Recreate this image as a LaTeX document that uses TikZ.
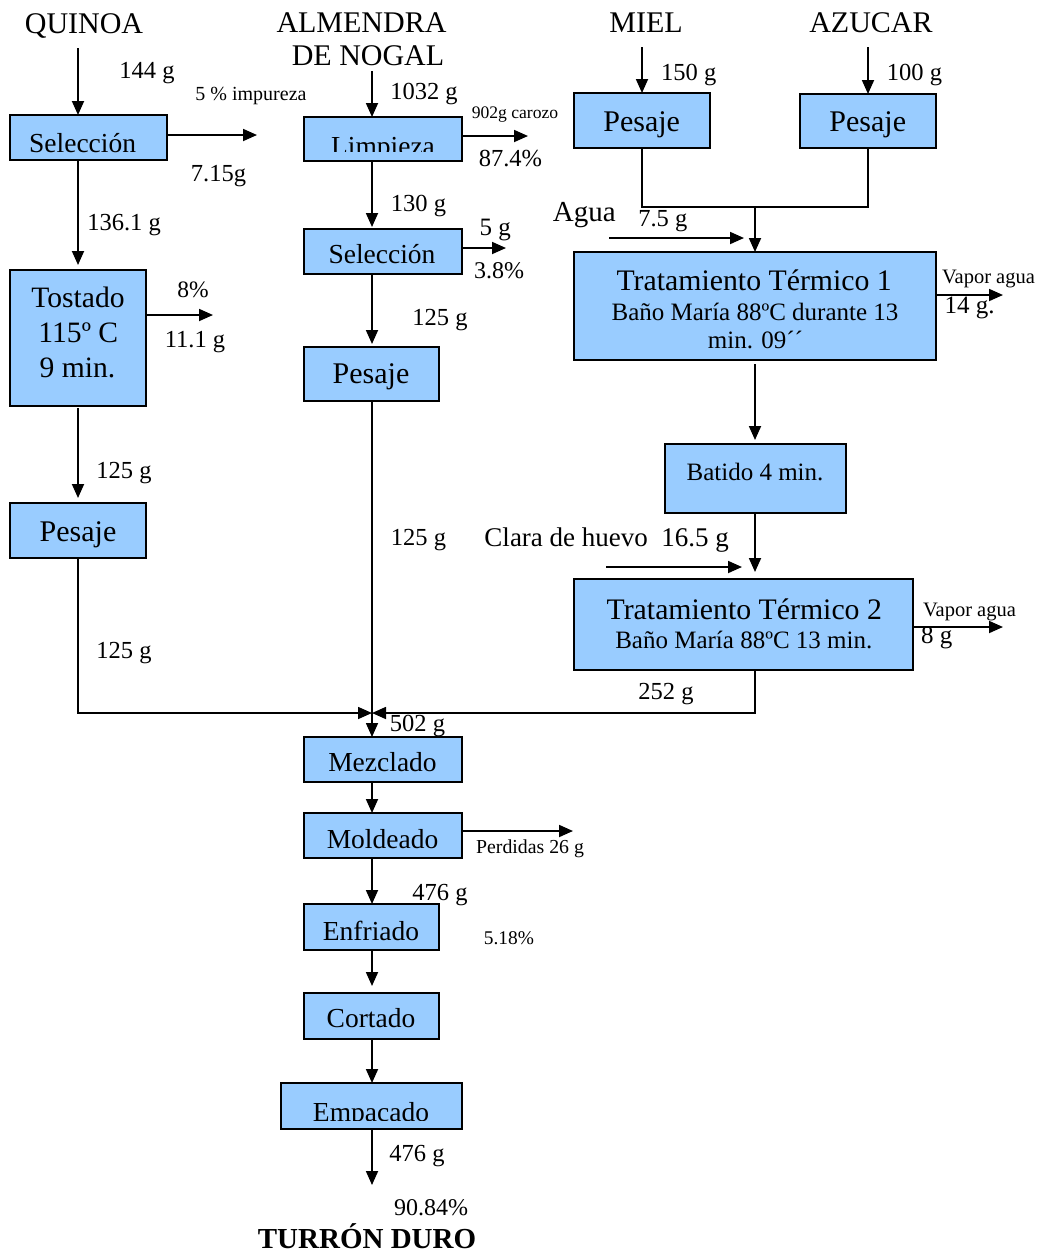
\documentclass[tikz,border=0pt]{standalone}
\usepackage{fontspec}
\setmainfont{Liberation Serif}
\usetikzlibrary{arrows.meta}
\newcommand\fsz[1]{\fontsize{#1}{#1}\selectfont}
\definecolor{boxblue}{RGB}{153,204,255}
\begin{document}
\begin{tikzpicture}[x=1pt,y=-1pt,
  box/.style={draw=black, line width=2pt, fill=boxblue, inner sep=0pt, outer sep=0pt, anchor=north west},
  lbl/.style={anchor=base, inner sep=0pt},
  arr/.style={line width=1.8pt, -{Triangle[length=14pt,width=12pt]}},
  ln/.style={line width=1.6pt},
  mtip/.style={line width=1.6pt, -{Triangle[length=14pt,width=12pt]}},
]
\useasboundingbox (0,0) rectangle (1042,1254);

% ---------- boxes ----------
\node[box, minimum width=157pt, minimum height=45pt] (selq) at (10,115) {};
\node[box, minimum width=136pt, minimum height=136pt] (tost) at (10,270) {};
\node[box, minimum width=136pt, minimum height=55pt] (pesq) at (10,503) {};
\node[box, minimum width=158pt, minimum height=44pt] (limp) at (304,117) {};
\node[box, minimum width=158pt, minimum height=45pt] (sela) at (304,229) {};
\node[box, minimum width=135pt, minimum height=54pt] (pesa) at (304,347) {};
\node[box, minimum width=136pt, minimum height=55pt] (pesm) at (574,93) {};
\node[box, minimum width=136pt, minimum height=54pt] (pesz) at (800,94) {};
\node[box, minimum width=362pt, minimum height=108pt] (tt1) at (574,252) {};
\node[box, minimum width=181pt, minimum height=69pt] (bati) at (665,444) {};
\node[box, minimum width=339pt, minimum height=91pt] (tt2) at (574,579) {};
\node[box, minimum width=158pt, minimum height=45pt] (mezc) at (304,737) {};
\node[box, minimum width=158pt, minimum height=45pt] (mold) at (304,813) {};
\node[box, minimum width=135pt, minimum height=46pt] (enfr) at (304,904) {};
\node[box, minimum width=135pt, minimum height=46pt] (cort) at (304,993) {};
\node[box, minimum width=181pt, minimum height=46pt] (empa) at (281,1083) {};

% ---------- box texts ----------
\node[lbl, font=\fsz{27.5}] (selqt) at (82.6,152) {Selección};
\node[lbl, font=\fsz{29.6}] (tostt1) at (78,307.7) {Tostado};
\node[lbl, font=\fsz{29.6}] (tostt2) at (78.3,342.7) {115º C};
\node[lbl, font=\fsz{29.6}] (tostt3) at (77.5,377) {9 min.};
\node[lbl, font=\fsz{30}] (pesqt) at (78,541.7) {Pesaje};
\begin{scope}
  \clip (304,117) rectangle (462,151.7);
  \node[lbl, font=\fsz{27.5}] (limpt) at (383,155) {Limpieza};
\end{scope}
\node[lbl, font=\fsz{27.5}] (selat) at (382,263.3) {Selección};
\node[lbl, font=\fsz{30}] (pesat) at (371,383) {Pesaje};
\node[lbl, font=\fsz{30}] (pesmt) at (641.7,131.7) {Pesaje};
\node[lbl, font=\fsz{30}] (peszt) at (867.8,131.7) {Pesaje};
\node[lbl, font=\fsz{29.8}] (tt1a) at (754.2,290) {Tratamiento Térmico 1};
\node[lbl, font=\fsz{25}] (tt1b) at (755,320) {Baño María 88ºC durante 13};
\node[lbl, font=\fsz{25}] (tt1c) at (755.5,348.3) {min. 09´´};
\node[lbl, font=\fsz{25}] (batit) at (755,480) {Batido 4 min.};
\node[lbl, font=\fsz{29.8}] (tt2a) at (744.3,619.3) {Tratamiento Térmico 2};
\node[lbl, font=\fsz{25}] (tt2b) at (743.8,648.3) {Baño María 88ºC 13 min.};
\node[lbl, font=\fsz{27.5}] (mezct) at (382.5,771.7) {Mezclado};
\node[lbl, font=\fsz{27.5}] (moldt) at (382.5,848.3) {Moldeado};
\node[lbl, font=\fsz{27.5}] (enfrt) at (371,940) {Enfriado};
\node[lbl, font=\fsz{27.5}] (cortt) at (371,1027.3) {Cortado};
\begin{scope}
  \clip (281,1083) rectangle (462,1120);
  \node[lbl, font=\fsz{27.5}] (empat) at (371,1121) {Empacado};
\end{scope}

% ---------- titles ----------
\node[lbl, font=\fsz{30}] (quinoa) at (84,33) {QUINOA};
\node[lbl, font=\fsz{30}] (almen) at (361.5,32) {ALMENDRA};
\node[lbl, font=\fsz{30}] (nogal) at (368,65) {DE NOGAL};
\node[lbl, font=\fsz{30}] (miel) at (646,32) {MIEL};
\node[lbl, font=\fsz{30}] (azucar) at (871,32) {AZUCAR};
\node[lbl, font=\fsz{29}\bfseries] (turron) at (367,1248.3) {TURRÓN DURO};

% ---------- labels ----------
\node[lbl, font=\fsz{24.5}] (l144) at (147,78) {144 g};
\node[lbl, font=\fsz{20}] (limpur) at (251,100) {5 \% impureza};
\node[lbl, font=\fsz{24.5}] (l715) at (218.5,181.7) {7.15g};
\node[lbl, font=\fsz{24.5}] (l1361) at (124,230) {136.1 g};
\node[lbl, font=\fsz{23.5}] (l8p) at (193,297.3) {8\%};
\node[lbl, font=\fsz{24.5}] (l111) at (195,347.3) {11.1 g};
\node[lbl, font=\fsz{24.5}] (l125a) at (124,478.3) {125 g};
\node[lbl, font=\fsz{24.5}] (l125b) at (124,658.3) {125 g};
\node[lbl, font=\fsz{24.5}] (l1032) at (424,99.3) {1032 g};
\node[lbl, font=\fsz{17.6}] (lcaro) at (515,118.3) {902g carozo};
\node[lbl, font=\fsz{24.5}] (l874) at (510.5,166.7) {87.4\%};
\node[lbl, font=\fsz{24.5}] (l130) at (418.5,211.7) {130 g};
\node[lbl, font=\fsz{25}] (l5g) at (495.3,235) {5 g};
\node[lbl, font=\fsz{24}] (l38) at (499,278.3) {3.8\%};
\node[lbl, font=\fsz{24.5}] (l125c) at (440,325) {125 g};
\node[lbl, font=\fsz{24.5}] (l125d) at (418.5,545) {125 g};
\node[lbl, font=\fsz{24.5}] (l150) at (688.8,80) {150 g};
\node[lbl, font=\fsz{24.5}] (l100) at (914.5,80) {100 g};
\node[lbl, font=\fsz{29}] (lagua) at (584.3,221.7) {Agua};
\node[lbl, font=\fsz{24.5}] (l75) at (662.8,226.7) {7.5 g};
\node[lbl, font=\fsz{20.5}] (lvap1) at (988.5,283.3) {Vapor agua};
\node[lbl, font=\fsz{25}] (l14) at (969.5,313.3) {14 g.};
\node[lbl, font=\fsz{27}] (lclara) at (606.7,546.7) {Clara de huevo\ \ 16.5 g};
\node[lbl, font=\fsz{20.5}] (lvap2) at (969.5,616) {Vapor agua};
\node[lbl, font=\fsz{25}] (l8g) at (936.7,643.3) {8 g};
\node[lbl, font=\fsz{24.5}] (l252) at (666,699.3) {252 g};
\node[lbl, font=\fsz{24.5}] (l502) at (417.5,731.7) {502 g};
\node[lbl, font=\fsz{19.8}] (lperd) at (530,853.3) {Perdidas 26 g};
\node[lbl, font=\fsz{24.5}] (l476a) at (440,900) {476 g};
\node[lbl, font=\fsz{19.4}] (l518) at (509,944) {5.18\%};
\node[lbl, font=\fsz{24.5}] (l476b) at (417,1161.7) {476 g};
\node[lbl, font=\fsz{24}] (l9084) at (431,1215) {90.84\%};

% ---------- quinoa column ----------
\coordinate (qtop) at (78,48);
\coordinate (q1) at (257,135);
\coordinate (q2) at (213,315);
\coordinate (merge) at (372,713);
\draw[arr] (qtop) -- (qtop |- selq.north);
\draw[arr] (selq.east |- q1) -- (q1);
\draw[arr, shorten >=5pt] (qtop |- selq.south) -- (qtop |- tost.north);
\draw[arr] (tost.east |- q2) -- (q2);
\draw[arr, shorten >=5pt, shorten <=2pt] (qtop |- tost.south) -- (qtop |- pesq.north);
\draw[mtip] (qtop |- pesq.south) -- (qtop |- merge) -- (merge);

% ---------- almendra column ----------
\coordinate (atop) at (372,71);
\coordinate (a1) at (528,136);
\coordinate (a2) at (506,248);
\draw[arr] (atop) -- (atop |- limp.north);
\draw[arr] (limp.east |- a1) -- (a1);
\draw[arr, shorten >=2pt] (atop |- limp.south) -- (atop |- sela.north);
\draw[arr] (sela.east |- a2) -- (a2);
\draw[arr, shorten >=3pt] (atop |- sela.south) -- (atop |- pesa.north);
\draw[mtip] (atop |- pesa.south) -- (atop |- mezc.north);

% ---------- miel / azucar ----------
\coordinate (mtop) at (642,47);
\coordinate (ztop) at (868,47);
\coordinate (join) at (755,207);
\coordinate (aguas) at (609,238);
\coordinate (aguae) at (744,238);
\coordinate (v1) at (1003,295);
\coordinate (cls) at (606,567);
\coordinate (cle) at (742,567);
\coordinate (v2) at (1003,627);
\draw[arr] (mtop) -- (mtop |- pesm.north);
\draw[arr] (ztop) -- (ztop |- pesz.north);
\draw[ln] (mtop |- pesm.south) -- (mtop |- join) -- (ztop |- join) -- (ztop |- pesz.south);
\draw[arr] (join) -- (join |- tt1.north);
\draw[arr] (aguas) -- (aguae);
\draw[arr] (tt1.east |- v1) -- (v1);
\draw[arr, shorten <=4pt, shorten >=4pt] (join |- tt1.south) -- (join |- bati.north);
\draw[arr, shorten >=7pt] (join |- bati.south) -- (join |- tt2.north);
\draw[arr] (cls) -- (cle);
\draw[arr] (tt2.east |- v2) -- (v2);
\draw[mtip] (join |- tt2.south) -- (join |- merge) -- (merge);

% ---------- final chain ----------
\coordinate (p1) at (573,831);
\coordinate (fin) at (372,1185);
\draw[arr] (atop |- mezc.south) -- (atop |- mold.north);
\draw[arr] (mold.east |- p1) -- (p1);
\draw[arr] (atop |- mold.south) -- (atop |- enfr.north);
\draw[arr, shorten >=7pt] (atop |- enfr.south) -- (atop |- cort.north);
\draw[arr] (atop |- cort.south) -- (atop |- empa.north);
\draw[arr] (atop |- empa.south) -- (fin);
\end{tikzpicture}
\end{document}
